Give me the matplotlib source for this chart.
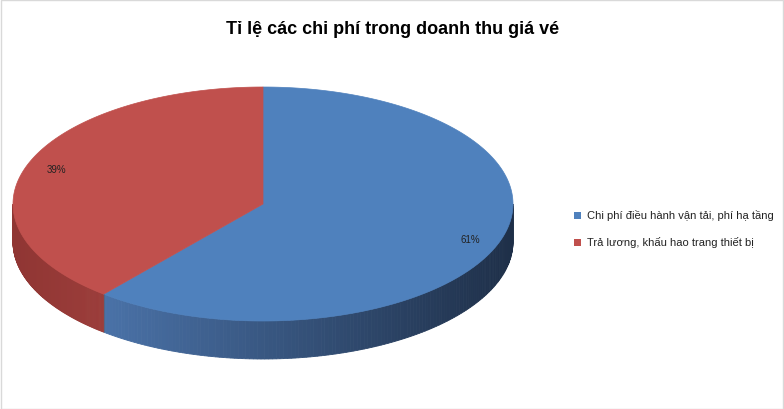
import numpy as np
import matplotlib
matplotlib.use("Agg")
import matplotlib.pyplot as plt
from matplotlib.patches import Polygon, Rectangle
from matplotlib.colors import to_rgb

title = "Tỉ lệ các chi phí trong doanh thu giá vé"
categories = ["Chi phí điều hành vận tải, phí hạ tầng", "Trả lương, khấu hao trang thiết bị"]
values = [61, 39]
colors = ["#4f81bd", "#c0504d"]
side_light = ["#4a72a8", "#b04a47"]
side_dark = ["#1e2f48", "#7a2826"]

plt.rcParams['font.family'] = ['Liberation Sans', 'DejaVu Sans']
fig = plt.figure(figsize=(7.84, 4.10), dpi=100)
ax = fig.add_axes([0, 0, 1, 1])
ax.set_xlim(0, 784); ax.set_ylim(410, 0); ax.axis("off")

cx, cy, rx, ry, depth = 263, 205, 250, 117, 38
def pt(t):
    return cx + rx*np.sin(t), cy - ry*np.cos(t)

fr = np.array(values)/sum(values)
bounds = np.concatenate([[0], np.cumsum(fr)])*2*np.pi

for i in range(len(values)):
    a0, a1 = max(bounds[i], np.pi/2), min(bounds[i+1], 3*np.pi/2)
    if a1 <= a0: continue
    ts = np.linspace(a0, a1, 150)
    c1, c2 = np.array(to_rgb(side_light[i])), np.array(to_rgb(side_dark[i]))
    xa, _ = pt(a0); xb, _ = pt(a1)
    for j in range(len(ts)-1):
        x0, y0 = pt(ts[j]); x1, y1 = pt(ts[j+1])
        if i == 0:
            shade = np.clip((x0 - xb) / (xa - xb), 0, 1)
        else:
            shade = np.clip(1 - (x0 - 13) / 250, 0, 1) * 0.6
        col = c1*(1-shade) + c2*shade
        ax.add_patch(Polygon([(x0, y0), (x1, y1), (x1, y1+depth), (x0, y0+depth)],
                             closed=True, fc=col, ec=col, lw=0.6))
for b in bounds[1:-1]:
    if np.pi/2 < b < 3*np.pi/2:
        x, y = pt(b)
        ax.plot([x, x], [y, y+depth], color="#5a5a5a", lw=0.5, alpha=0.5)

for i in range(len(values)):
    ts = np.linspace(bounds[i], bounds[i+1], 200)
    xs, ys = pt(ts)
    poly = [(cx, cy)] + list(zip(xs, ys))
    ax.add_patch(Polygon(poly, closed=True, fc=colors[i], ec=colors[i], lw=0.5))

for i in range(len(values)):
    mid = (bounds[i]+bounds[i+1])/2
    x = cx + rx*0.88*np.sin(mid); y = cy - ry*0.88*np.cos(mid)
    ax.text(x, y, f"{values[i]}%", fontsize=7, ha="center", va="center", color="#222222")

ax.text(393, 30, title, fontsize=13, fontweight="bold", ha="center", va="center")

for i, c in enumerate(categories):
    y = 216 + 27*i
    ax.add_patch(Rectangle((574, y-3.5), 7, 7, fc=colors[i], ec="none"))
    ax.text(587, y, c, fontsize=8, va="center", color="#222222")

ax.add_patch(Rectangle((0.5, 0.5), 783, 409, fill=False, ec="#d9d9d9", lw=1))
fig.savefig("out.png", dpi=100)
